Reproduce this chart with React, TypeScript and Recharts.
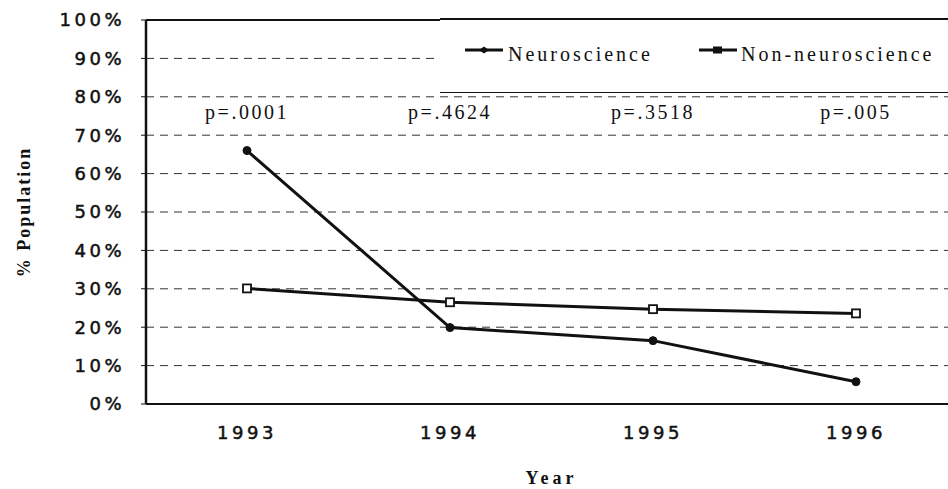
import React from 'react';
import {
  LineChart,
  Line,
  XAxis,
  YAxis,
  CartesianGrid,
  Legend,
  ReferenceLine,
  ReferenceDot,
  Label,
} from 'recharts';

const years = ['1993', '1994', '1995', '1996'];
const neuroscience = [66, 19.9, 16.5, 5.8];
const nonNeuroscience = [30.1, 26.5, 24.7, 23.6];
const pValues = ['p=.0001', 'p=.4624', 'p=.3518', 'p=.005'];
const pValueLevel = 76;
const yTicks = [0, 10, 20, 30, 40, 50, 60, 70, 80, 90, 100];

const data = years.map((year, i) => ({
  year,
  neuro: neuroscience[i],
  non: nonNeuroscience[i],
}));

const INK = '#111';
const SANS = '"DejaVu Sans", Verdana, sans-serif';
const SERIF = '"Liberation Serif", "Times New Roman", serif';

const tickStyle = {
  fill: INK,
  stroke: INK,
  strokeWidth: 0.5,
  fontFamily: SANS,
  fontSize: 18,
  letterSpacing: 3.5,
};

const SquareDot = (props: any) => {
  const { cx, cy, index } = props;
  if (cx == null || cy == null) return null;
  return (
    <rect
      key={`sq-${index}`}
      x={cx - 4}
      y={cy - 4}
      width={8}
      height={8}
      fill="#fff"
      stroke={INK}
      strokeWidth={1.8}
    />
  );
};

const renderYLabel = (props: any) => {
  const vb = props.viewBox || {};
  const x = 24;
  const y = (vb.y ?? 20) + (vb.height ?? 384) / 2;
  return (
    <text
      x={x}
      y={y}
      transform={`rotate(-90, ${x}, ${y})`}
      textAnchor="middle"
      dominantBaseline="central"
      fontFamily={SERIF}
      fontWeight="bold"
      fontSize={18}
      letterSpacing={2}
      fill={INK}
    >
      % Population
    </text>
  );
};

const renderXLabel = (props: any) => {
  const vb = props.viewBox || {};
  const x = (vb.x ?? 146) + (vb.width ?? 811) / 2;
  const y = (vb.y ?? 404) + 80;
  return (
    <text
      x={x}
      y={y}
      textAnchor="middle"
      fontFamily={SERIF}
      fontWeight="bold"
      fontSize={18}
      letterSpacing={4}
      fill={INK}
    >
      Year
    </text>
  );
};

const renderLegend = () => (
  <div
    style={{
      position: 'relative',
      width: '100%',
      height: '100%',
      background: '#fff',
      borderTop: `2px solid ${INK}`,
      borderBottom: `1.5px solid ${INK}`,
      boxSizing: 'border-box',
      fontFamily: SERIF,
      fontSize: 20,
      letterSpacing: 3,
      color: INK,
    }}
  >
    <svg style={{ position: 'absolute', left: 25, top: 23 }} width={40} height={14}>
      <line x1={0} y1={7} x2={38} y2={7} stroke={INK} strokeWidth={3} />
      <path d="M14 7 L19 3.5 L24 7 L19 10.5 Z" fill={INK} />
    </svg>
    <span style={{ position: 'absolute', left: 68, top: 22, lineHeight: '24px', whiteSpace: 'nowrap' }}>
      Neuroscience
    </span>
    <svg style={{ position: 'absolute', left: 259, top: 23 }} width={40} height={14}>
      <line x1={0} y1={7} x2={38} y2={7} stroke={INK} strokeWidth={3} />
      <rect x={14} y={3.5} width={9} height={7} fill={INK} />
    </svg>
    <span style={{ position: 'absolute', left: 301, top: 22, lineHeight: '24px', whiteSpace: 'nowrap' }}>
      Non-neuroscience
    </span>
  </div>
);

export default function App() {
  return (
    <div
      style={{
        position: 'fixed',
        left: 0,
        top: 0,
        width: 948,
        height: 489,
        overflow: 'hidden',
        background: '#fff',
      }}
    >
      <LineChart
        width={970}
        height={489}
        data={data}
        margin={{ top: 20, right: 13, bottom: 0, left: 0 }}
      >
        <CartesianGrid vertical={false} stroke="#333" strokeDasharray="8 6" strokeWidth={1} />
        <XAxis
          dataKey="year"
          padding={{ left: 101, right: 101 }}
          height={85}
          tickLine={false}
          tickSize={6}
          tickMargin={16}
          axisLine={{ stroke: INK, strokeWidth: 2 }}
          tick={tickStyle}
        >
          <Label content={renderXLabel} />
        </XAxis>
        <YAxis
          domain={[0, 100]}
          ticks={yTicks}
          interval={0}
          width={146}
          tickFormatter={(v: number) => `${v}%`}
          tickSize={5}
          tickMargin={16}
          axisLine={{ stroke: INK, strokeWidth: 2.5 }}
          tickLine={{ stroke: INK, strokeWidth: 1 }}
          tick={tickStyle}
        >
          <Label content={renderYLabel} />
        </YAxis>
        <ReferenceLine y={100} stroke={INK} strokeWidth={2} />
        {years.map((year, i) => (
          <ReferenceDot
            key={year}
            x={year}
            y={pValueLevel}
            r={1}
            fill="none"
            stroke="none"
            label={{
              value: pValues[i],
              position: 'center',
              fill: INK,
              fontFamily: SERIF,
              fontSize: 20,
              letterSpacing: 2.5,
            }}
          />
        ))}
        <Legend
          layout="horizontal"
          align="center"
          verticalAlign="middle"
          content={renderLegend}
          wrapperStyle={{ position: 'absolute', left: 440, top: 18, width: 530, height: 75 }}
        />
        <Line
          type="linear"
          dataKey="non"
          name="Non-neuroscience"
          stroke={INK}
          strokeWidth={3}
          dot={<SquareDot />}
          activeDot={false}
          isAnimationActive={false}
        />
        <Line
          type="linear"
          dataKey="neuro"
          name="Neuroscience"
          stroke={INK}
          strokeWidth={3}
          dot={{ r: 4, fill: INK, stroke: INK, strokeWidth: 1 }}
          activeDot={false}
          isAnimationActive={false}
        />
      </LineChart>
    </div>
  );
}
